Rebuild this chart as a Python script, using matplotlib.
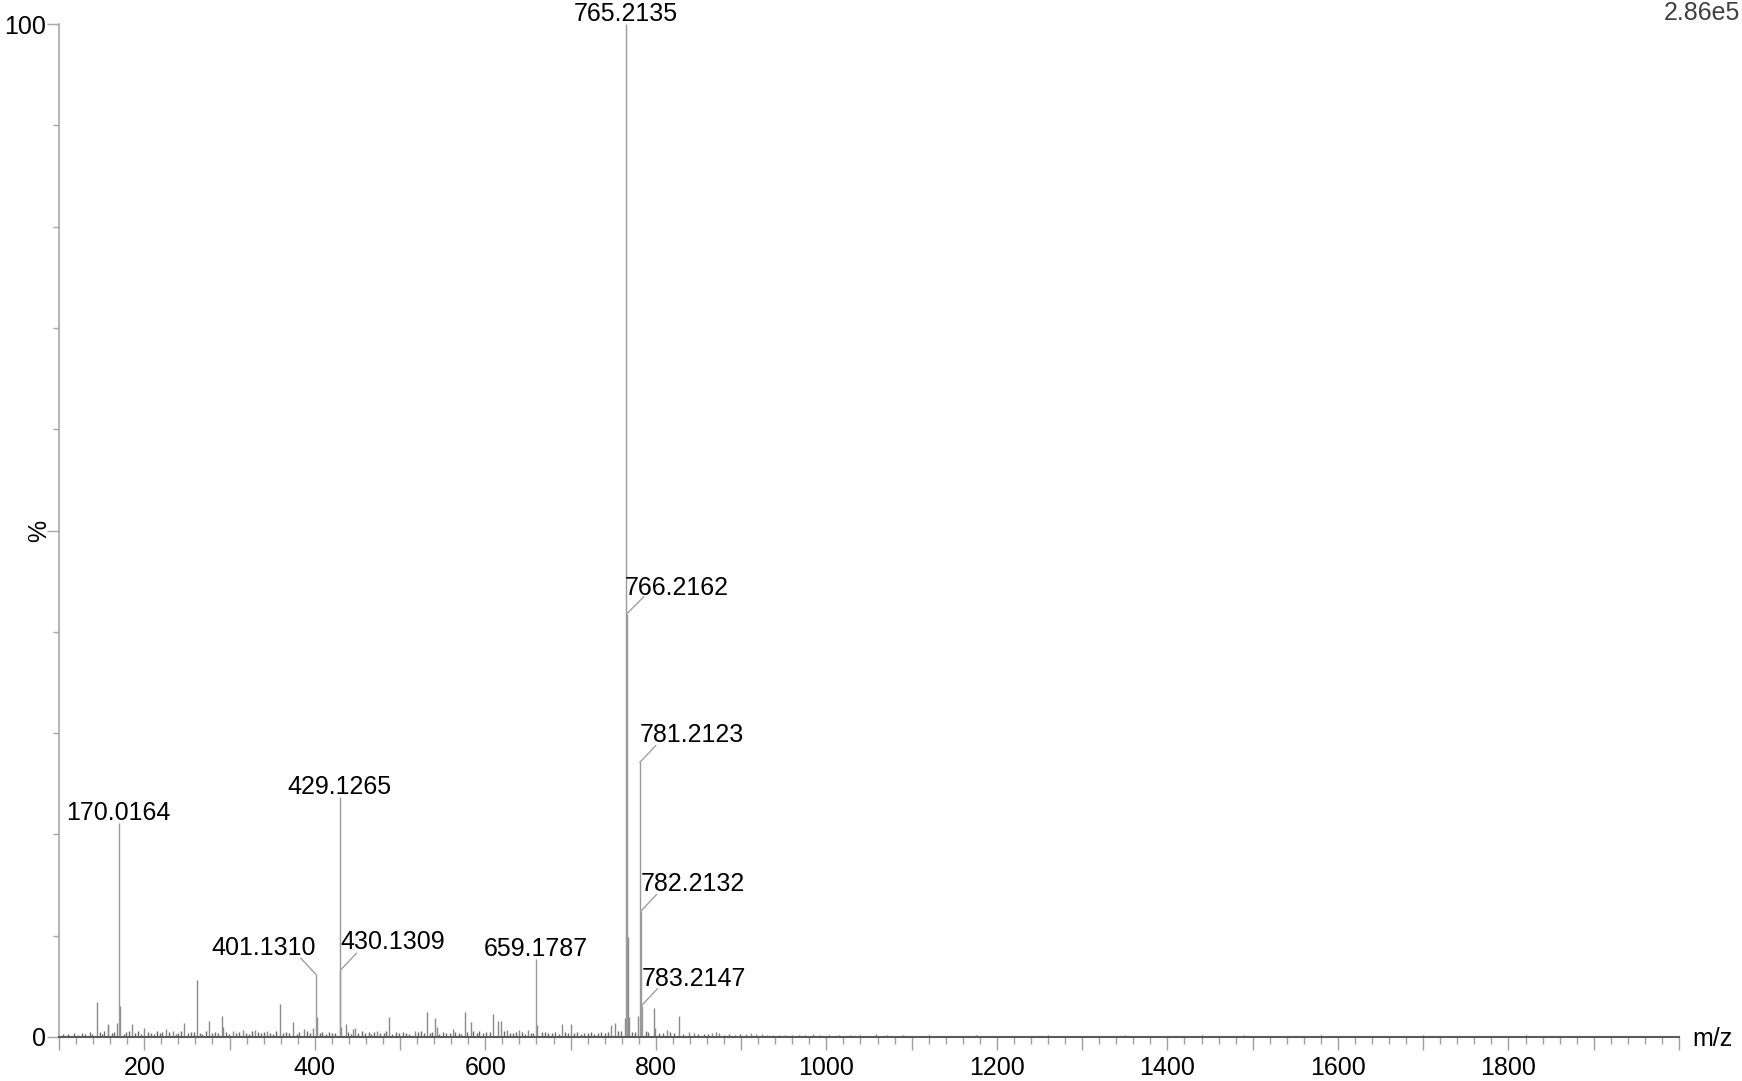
import matplotlib
matplotlib.use('Agg')
import matplotlib.pyplot as plt
from matplotlib.ticker import MultipleLocator, FuncFormatter

plt.rcParams['font.family'] = ['Liberation Sans', 'DejaVu Sans']

# labelled peaks (m/z, relative intensity %)
label_mz = [170.0164, 401.1310, 429.1265, 430.1309, 659.1787,
            765.2135, 766.2162, 781.2123, 782.2132, 783.2147]
label_int = [21.1, 6.2, 23.7, 6.6, 7.7, 100.0, 41.8, 27.1, 12.4, 3.1]
label_txt = ['170.0164', '401.1310', '429.1265', '430.1309', '659.1787',
             '765.2135', '766.2162', '781.2123', '782.2132', '783.2147']

# other visible peaks
peak_mz = [144.2, 157.0, 158.0, 168.4, 171.0, 185.3, 200.0, 225.6, 233.8, 247.0,
           261.8, 275.9, 291.5, 292.5, 304.5, 315.4, 329.9, 343.6, 359.6, 374.9,
           387.4, 397.6, 402.1, 431.1, 436.6, 445.3, 447.0, 473.4, 487.4, 517.5,
           531.2, 541.5, 543.0, 561.7, 575.8, 582.8, 609.4, 614.5, 618.4, 625.0,
           639.0, 649.7, 660.2, 689.5, 700.0, 747.0, 752.2, 763.8, 767.2, 768.2,
           779.5, 797.8, 799.0, 812.7, 827.5, 839.0, 845.0, 866.0, 870.0, 874.0,
           906.0, 912.0, 918.0, 924.0, 984.0, 1058.0]
peak_int = [3.5, 1.3, 1.2, 1.4, 3.1, 1.3, 0.9, 0.8, 0.6, 1.4,
            5.6, 1.6, 2.1, 1.0, 0.6, 0.7, 0.7, 0.6, 3.3, 1.5,
            0.8, 0.9, 2.0, 1.0, 1.3, 0.8, 0.9, 0.6, 2.0, 0.6,
            2.5, 1.9, 1.0, 0.8, 2.5, 1.5, 2.3, 1.6, 1.6, 0.7,
            0.7, 0.7, 1.2, 1.3, 1.3, 1.2, 1.4, 1.9, 9.9, 2.0,
            2.1, 2.9, 0.9, 0.7, 2.1, 0.5, 0.4, 0.4, 0.5, 0.4,
            0.3, 0.35, 0.3, 0.3, 0.25, 0.25]

# low level noise along the baseline
noise_mz = [105, 111, 118, 122, 127, 131, 136, 139, 148, 151,
            153, 162, 165, 176, 179, 182, 189, 193, 196, 204,
            208, 212, 215, 219, 221, 229, 237, 240, 243, 251,
            255, 258, 265, 268, 272, 279, 283, 287, 296, 299,
            308, 311, 319, 323, 326, 333, 337, 340, 347, 351,
            355, 363, 366, 370, 379, 382, 391, 394, 406, 409,
            413, 417, 420, 424, 439, 442, 451, 455, 459, 463,
            466, 470, 477, 481, 484, 491, 495, 499, 503, 507,
            511, 521, 525, 528, 535, 538, 546, 550, 554, 558,
            565, 569, 572, 579, 586, 590, 593, 597, 601, 605,
            622, 629, 632, 636, 643, 646, 653, 656, 666, 670,
            674, 678, 682, 686, 693, 697, 704, 708, 712, 716,
            720, 724, 728, 732, 736, 740, 744, 756, 759, 772,
            775, 788, 791, 804, 808, 817, 821, 832, 850, 856,
            861, 880, 886, 893, 899, 930, 937, 945, 952, 960,
            968, 975, 992, 1003, 1015, 1028, 1040, 1071, 1090, 1105,
            1120, 1150, 1175, 1200, 1230, 1260, 1290, 1320, 1350, 1380,
            1410, 1440, 1470, 1490, 1520, 1550, 1580, 1610, 1640, 1670,
            1700, 1730, 1760, 1790, 1820, 1850, 1880, 1910, 1940, 1970]
noise_int = [0.25, 0.3, 0.4, 0.2, 0.35, 0.3, 0.45, 0.25, 0.5, 0.3,
             0.6, 0.4, 0.5, 0.3, 0.45, 0.55, 0.35, 0.6, 0.3, 0.5,
             0.4, 0.3, 0.55, 0.35, 0.45, 0.5, 0.3, 0.4, 0.6, 0.35,
             0.5, 0.45, 0.4, 0.3, 0.6, 0.35, 0.5, 0.4, 0.45, 0.3,
             0.35, 0.5, 0.4, 0.3, 0.55, 0.45, 0.35, 0.5, 0.4, 0.3,
             0.55, 0.4, 0.5, 0.35, 0.3, 0.45, 0.6, 0.4, 0.35, 0.5,
             0.3, 0.45, 0.4, 0.35, 0.5, 0.3, 0.4, 0.55, 0.35, 0.45,
             0.3, 0.5, 0.4, 0.35, 0.6, 0.3, 0.45, 0.4, 0.5, 0.35,
             0.3, 0.45, 0.55, 0.35, 0.4, 0.5, 0.3, 0.45, 0.4, 0.35,
             0.5, 0.4, 0.3, 0.45, 0.55, 0.35, 0.6, 0.4, 0.45, 0.5,
             0.55, 0.4, 0.35, 0.5, 0.45, 0.3, 0.4, 0.35, 0.5, 0.45,
             0.4, 0.35, 0.5, 0.3, 0.45, 0.4, 0.35, 0.5, 0.3, 0.4,
             0.35, 0.45, 0.3, 0.4, 0.5, 0.35, 0.45, 0.6, 0.55, 0.5,
             0.45, 0.6, 0.5, 0.4, 0.35, 0.45, 0.4, 0.3, 0.3, 0.25,
             0.3, 0.2, 0.25, 0.2, 0.25, 0.2, 0.15, 0.2, 0.15, 0.2,
             0.15, 0.2, 0.15, 0.2, 0.15, 0.15, 0.2, 0.15, 0.15, 0.1,
             0.15, 0.1, 0.15, 0.1, 0.1, 0.15, 0.1, 0.1, 0.15, 0.1,
             0.1, 0.15, 0.1, 0.2, 0.1, 0.1, 0.15, 0.1, 0.1, 0.1,
             0.15, 0.1, 0.1, 0.1, 0.15, 0.1, 0.1, 0.1, 0.1, 0.1]

base_peak = '2.86e5'

# label placement in pixels: (line dx, line dy, text dx, text dy, ha); None -> no connector
placement = [None, (-15, 16, 0, 19, 'right'), None, (16, 17, 0, 21, 'left'), None,
             None, (17, 17, -2, 19, 'left'), (16, 17, 0, 20, 'left'),
             (16, 17, 0, 20, 'left'), (16, 17, 0, 20, 'left')]

fig = plt.figure(figsize=(17.42, 10.81), dpi=100)
ax = fig.add_axes([59/1742, 44/1081, 1620/1742, 1013/1081])

ax.vlines(noise_mz, 0, noise_int, color='#6a6a6a', lw=1)
ax.vlines(peak_mz, 0, peak_int, color='#8a8a8a', lw=1)
ax.vlines(label_mz, 0, label_int, color='#9a9a9a', lw=1)

for mz, h, t, p in zip(label_mz, label_int, label_txt, placement):
    if p is None:
        ax.annotate(t, xy=(mz, h), xytext=(0, 3), textcoords='offset pixels',
                    ha='center', va='baseline', fontsize=18)
    else:
        ldx, ldy, tdx, tdy, ha = p
        ax.annotate('', xy=(mz, h), xytext=(ldx, ldy), textcoords='offset pixels',
                    arrowprops=dict(arrowstyle='-', color='#a0a0a0', lw=1,
                                    shrinkA=0, shrinkB=0))
        ax.annotate(t, xy=(mz, h), xytext=(tdx, tdy), textcoords='offset pixels',
                    ha=ha, va='baseline', fontsize=18)

ax.set_xlim(100, 2000)
ax.set_ylim(0, 100)
ax.spines['top'].set_visible(False)
ax.spines['right'].set_visible(False)
ax.spines['left'].set_color('#a8a8a8')
ax.spines['left'].set_linewidth(1.2)
ax.spines['bottom'].set_color('#5a5a5a')
ax.spines['bottom'].set_linewidth(1.5)

ax.xaxis.set_major_locator(MultipleLocator(100))
ax.xaxis.set_minor_locator(MultipleLocator(20))
ax.xaxis.set_major_formatter(FuncFormatter(
    lambda v, pos: '%d' % v if (v % 200 == 0 and 200 <= v <= 1800) else ''))
ax.yaxis.set_major_locator(MultipleLocator(50))
ax.yaxis.set_minor_locator(MultipleLocator(10))
ax.yaxis.set_major_formatter(FuncFormatter(
    lambda v, pos: '%d' % v if v in (0, 100) else ''))

ax.tick_params(axis='x', which='major', length=9.5, width=1, color='#a0a0a0',
               labelsize=18, pad=4)
ax.tick_params(axis='x', which='minor', length=5, width=1, color='#a0a0a0')
ax.tick_params(axis='y', which='major', length=8.5, width=1, color='#a8a8a8',
               labelsize=18, pad=1)
ax.tick_params(axis='y', which='minor', length=4.3, width=1, color='#a8a8a8')

fig.text(39/1742, 1 - 531/1081, '%', rotation=90, ha='center', va='center', fontsize=18)
fig.text(1712/1742, 1 - 1039/1081, 'm/z', ha='center', va='center', fontsize=18)
fig.text(1740/1742, 1 - 13/1081, base_peak, ha='right', va='center', fontsize=18,
         color='#404040')

fig.savefig('out.png', dpi=100)
